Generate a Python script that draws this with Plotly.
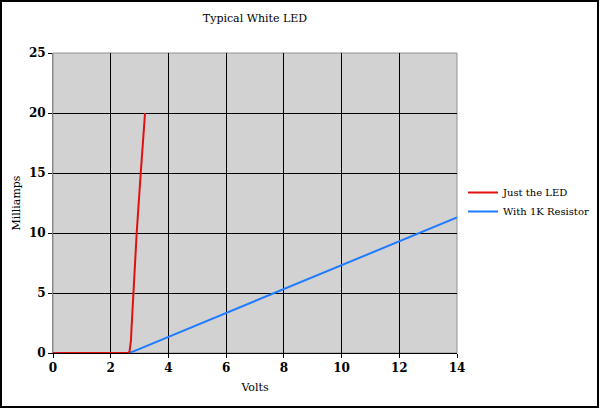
import plotly.graph_objects as go

# Data
led_volts = [0, 2.0, 2.6, 2.65, 2.68, 2.70, 2.72, 2.78, 2.90, 3.04, 3.19]
led_ma = [0, 0, 0, 0.1, 0.5, 1.0, 2.0, 5.0, 10.0, 15.0, 20.0]

res_volts = [0, 2.0, 2.6, 2.65, 3.0, 4.0, 6.0, 8.0, 10.0, 12.0, 14.0]
res_ma = [0, 0, 0, 0.0, 0.35, 1.35, 3.3, 5.3, 7.3, 9.3, 11.3]

x_ticks = [0, 2, 4, 6, 8, 10, 12, 14]
y_ticks = [0, 5, 10, 15, 20, 25]

FONT = "DejaVu Serif"

fig = go.Figure()
fig.add_trace(go.Scatter(x=res_volts, y=res_ma, mode="lines", name="With 1K Resistor",
                         line=dict(color="#1f7bff", width=2)))
fig.add_trace(go.Scatter(x=led_volts, y=led_ma, mode="lines", name="Just the LED",
                         line=dict(color="#e01010", width=2)))

W, H = 600, 409
L, R, T, B = 53, 457, 53, 353
pw, ph = R - L, B - T

def px_to_paper_x(px):
    return (px - L) / pw

def px_to_paper_y(py):
    return (B - py) / ph

fig.update_layout(
    width=W, height=H,
    margin=dict(l=L, r=W - R, t=T, b=H - B, autoexpand=False),
    paper_bgcolor="white",
    plot_bgcolor="#d2d2d2",
    title=dict(text="Typical White LED", x=0.5, xref="paper", xanchor="center",
               y=1 - 18 / H, yanchor="middle",
               font=dict(family=FONT, size=11, color="black")),
    showlegend=True,
    legend=dict(x=px_to_paper_x(463), y=px_to_paper_y(202), xanchor="left", yanchor="middle",
                traceorder="reversed", bgcolor="rgba(0,0,0,0)",
                font=dict(family=FONT, size=10, color="black"),
                itemwidth=30, tracegroupgap=0),
    xaxis=dict(range=[0, 14], tickvals=x_ticks, ticktext=[str(v) for v in x_ticks],
               showgrid=True, gridcolor="black", gridwidth=1,
               showline=True, linecolor="black", linewidth=1, mirror=False,
               ticks="outside", ticklen=4, tickcolor="black",
               tickfont=dict(family=FONT, size=12, color="black", weight="bold"),
               zeroline=False,
               title=dict(text="Volts", standoff=8,
                          font=dict(family=FONT, size=11, color="black"))),
    yaxis=dict(range=[0, 25], tickvals=y_ticks, ticktext=[str(v) for v in y_ticks],
               showgrid=True, gridcolor="black", gridwidth=1,
               showline=True, linecolor="#888888", linewidth=1,
               ticks="outside", ticklen=4, tickcolor="black",
               tickfont=dict(family=FONT, size=12, color="black", weight="bold"),
               zeroline=False,
               title=dict(text="Milliamps", standoff=6,
                          font=dict(family=FONT, size=11, color="black"))),
    shapes=[
        dict(type="rect", xref="paper", yref="paper", x0=0, x1=1, y0=0, y1=1,
             line=dict(color="#909090", width=1), fillcolor="rgba(0,0,0,0)", layer="below"),
        dict(type="rect", xref="paper", yref="paper",
             x0=px_to_paper_x(1), x1=px_to_paper_x(598),
             y0=px_to_paper_y(407), y1=px_to_paper_y(1),
             line=dict(color="black", width=2), fillcolor="rgba(0,0,0,0)"),
    ],
)

fig.write_html("out.html", config={"displayModeBar": False},
               post_script="document.body.style.margin='0';document.body.style.overflow='hidden';")
